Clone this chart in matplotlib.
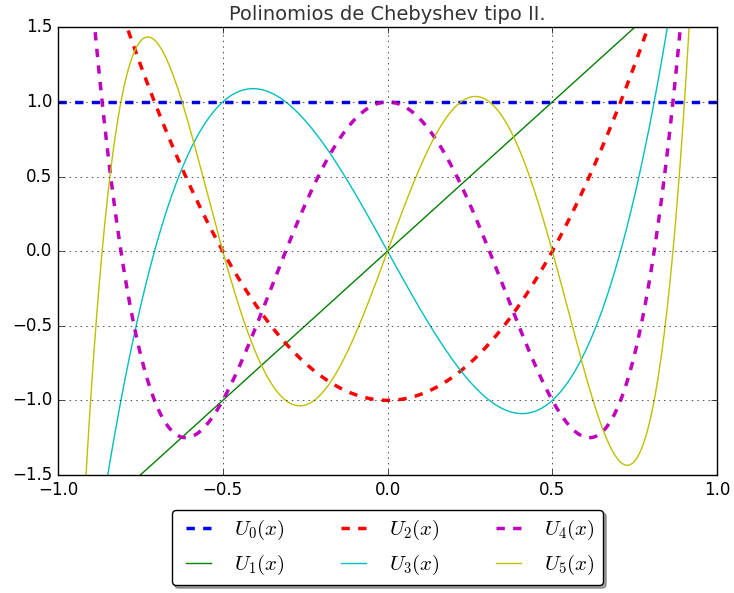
import numpy as np
import matplotlib
matplotlib.use('Agg')
import matplotlib.pyplot as plt

# coeficientes de U_n(x), grado mayor primero
U0 = [1]
U1 = [2, 0]
U2 = [4, 0, -1]
U3 = [8, 0, -4, 0]
U4 = [16, 0, -12, 0, 1]
U5 = [32, 0, -32, 0, 6, 0]
coefs = [U0, U1, U2, U3, U4, U5]
etiquetas = [r'$U_{%d}(x)$' % n for n in range(6)]
colores = ['b', 'g', 'r', 'c', 'm', 'y']

plt.style.use('classic')
fig = plt.figure(figsize=(7.34, 5.93), dpi=100)
ax = fig.add_axes([0.079, 0.199, 0.898, 0.755])

x = np.linspace(-1, 1, 1000)
for n, (c, lab, col) in enumerate(zip(coefs, etiquetas, colores)):
    y = np.polyval(c, x) * np.ones_like(x)
    if n % 2 == 0:
        ax.plot(x, y, '--', color=col, lw=2.5, label=lab)
    else:
        ax.plot(x, y, '-', color=col, lw=1, label=lab)

ax.set_xlim(-1, 1)
ax.set_ylim(-1.5, 1.5)
ax.grid(True)
ax.set_title('Polinomios de Chebyshev tipo II.', fontsize=14, color='#333333')
ax.legend(loc='upper center', bbox_to_anchor=(0.5, -0.055), ncol=3,
          fancybox=True, shadow=True, fontsize=15, columnspacing=2.4,
          handlelength=1.8)

fig.savefig('out.png', dpi=100)
